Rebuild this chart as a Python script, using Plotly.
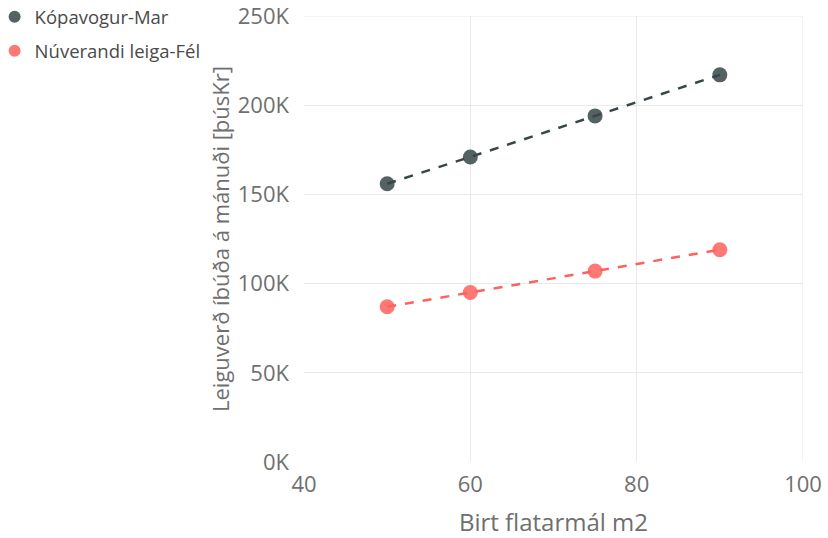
import plotly.graph_objects as go

area_m2 = [50, 60, 75, 90]
kopavogur_mar = [156000, 171000, 194000, 217000]
nuverandi_fel = [87000, 95000, 107000, 119000]
series_names = ["Kópavogur-Mar", "Núverandi leiga-Fél"]
x_ticks = [40, 60, 80, 100]
y_ticks = [0, 50000, 100000, 150000, 200000, 250000]
y_tick_labels = ["0K", "50K", "100K", "150K", "200K", "250K"]

colors = ["#374649", "#FD625E"]
font_family = "Segoe UI, Open Sans, Noto Sans, sans-serif"

fig = go.Figure()
for name, ys, c in zip(series_names, [kopavogur_mar, nuverandi_fel], colors):
    fig.add_trace(go.Scatter(
        x=area_m2, y=ys, mode="markers", name=name,
        marker=dict(size=15, color=c, opacity=0.85),
        legendgroup=name,
    ))
    fig.add_trace(go.Scatter(
        x=area_m2, y=ys, mode="lines", name=name, showlegend=False,
        line=dict(color=c, width=2.5, dash="dash"),
        legendgroup=name, hoverinfo="skip",
    ))

fig.update_layout(
    width=828, height=538,
    margin=dict(l=304, r=25, t=16, b=76, autoexpand=False),
    paper_bgcolor="white", plot_bgcolor="white",
    font=dict(family=font_family, color="#666666"),
    showlegend=True,
    legend=dict(x=-0.62, y=1.04,
                xanchor="left", yanchor="top",
                font=dict(size=18.5, color="#4a4a4a"),
                itemsizing="constant", tracegroupgap=7,
                itemwidth=30),
    xaxis=dict(range=[40, 100], tickvals=x_ticks, showgrid=True,
               gridcolor="#e9e9e9", gridwidth=1, zeroline=False,
               showline=False, tickfont=dict(size=22, color="#6f6f6f"),
               title=dict(text="Birt flatarmál m2", font=dict(size=24, color="#6f6f6f"), standoff=20),
               ticks="", automargin=False, ticklabelstandoff=7,
               ticklabeloverflow="allow"),
    yaxis=dict(range=[0, 250000], tickvals=y_ticks, ticktext=y_tick_labels,
               showgrid=True, gridcolor="#e9e9e9", gridwidth=1, zeroline=False,
               tickfont=dict(size=22, color="#6f6f6f"),
               title=dict(text="Leiguverð íbúða á mánuði [þúsKr]", font=dict(size=22, color="#6f6f6f"), standoff=2),
               ticks="", ticklabelstandoff=14, automargin=False,
               ticklabeloverflow="allow"),
)
fig.add_shape(type="line", xref="x", yref="paper", x0=100, x1=100, y0=0, y1=1,
              line=dict(color="#e9e9e9", width=1), layer="below")
fig.add_shape(type="line", xref="paper", yref="y", x0=0, x1=1, y0=250000, y1=250000,
              line=dict(color="#e9e9e9", width=1), layer="below")

fig.write_html("out.html", config={"displayModeBar": False},
               post_script="document.body.style.margin='0';")
